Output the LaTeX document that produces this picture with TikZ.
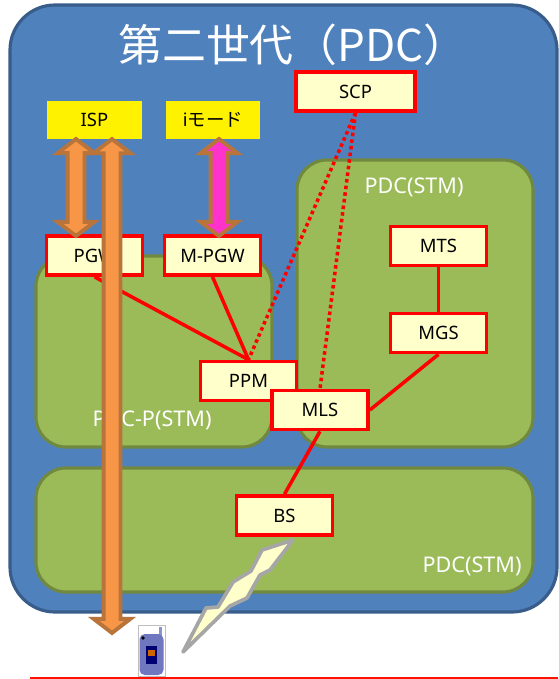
\documentclass[tikz,border=0pt]{standalone}
\usepackage{fontspec}
\setmainfont{Noto Sans}
\newfontfamily\jpfont{Noto Sans CJK JP}
\usepackage{xcolor}
\usetikzlibrary{arrows.meta,shapes.arrows}
\definecolor{bluefill}{HTML}{4F81BD}
\definecolor{blueline}{HTML}{385D8A}
\definecolor{greenfill}{HTML}{9BBB59}
\definecolor{greenline}{HTML}{71893F}
\definecolor{creamfill}{HTML}{FFFFCC}
\definecolor{orangefill}{HTML}{F79646}
\definecolor{orangeline}{HTML}{B8743A}
\definecolor{pinkfill}{HTML}{FF33CC}
\definecolor{phoneblue}{HTML}{6F78BE}
\tikzset{
  areabox/.style={draw=greenline,fill=greenfill,line width=1.8pt,rounded corners=0.6cm},
  netbox/.style={draw=red,fill=creamfill,line width=2.1pt,minimum width=1.92cm,minimum height=0.78cm,inner sep=0pt,font=\fontsize{10.5}{12}\selectfont},
  sitebox/.style={fill=yellow,minimum width=1.9cm,minimum height=0.76cm,inner sep=0pt,font=\fontsize{10.5}{12}\selectfont},
  arealabel/.style={text=white,font=\fontsize{12.3}{14}\selectfont},
  link/.style={draw=red,line width=2pt},
  dotlink/.style={draw=red,line width=2pt,dash pattern=on 2pt off 1.8pt},
  fatarrow/.style={double arrow,draw=orangeline,line width=2.2pt,rotate=90,inner xsep=0pt,inner ysep=0.13cm,
    double arrow head extend=0.2cm,double arrow tip angle=105,double arrow head indent=0pt}
}
\begin{document}
\begin{tikzpicture}[x=0.02cm,y=-0.02cm]
\useasboundingbox (0,0) rectangle (558,679);
% outer frame
\draw[draw=blueline,fill=bluefill,line width=1.8pt,rounded corners=0.9cm] (10,5) rectangle (557,612);
\node (title) at (293,45) {\jpfont\color{white}\fontsize{25}{28}\selectfont 第二世代（PDC）};
% areas
\draw[areabox] (36,256) rectangle (272,447);
\draw[areabox] (297,160) rectangle (533,447);
\draw[areabox] (36,468) rectangle (533,592);
\node[arealabel] (labelP) at (152,420) {PDC-P(STM)};
\node[arealabel] (labelU) at (414,187) {PDC(STM)};
\node[arealabel] (labelL) at (472,566) {PDC(STM)};
% top row
\node[sitebox] (ISP) at (94.5,120) {ISP};
\node[sitebox] (imode) at (213,120) {i\jpfont モード};
\node[netbox,minimum width=2.38cm] (SCP) at (355.5,91.5) {SCP};
% gateways
\node[netbox] (PGW) at (94.5,255.5) {PGW};
\node[netbox] (MPGW) at (212.5,255.5) {M-PGW};
\node[netbox] (MTS) at (438.5,246) {MTS};
\node[netbox] (MGS) at (438.5,333) {MGS};
\node[netbox] (PPM) at (248.5,381) {PPM};
\node[netbox] (MLS) at (320,410) {MLS};
\node[netbox] (BS) at (284.5,515.5) {BS};
% links
\draw[dotlink] (SCP.south) -- (PPM.north);
\draw[dotlink] (SCP.south) -- (MLS.north);
\draw[link] (PGW.south) -- (PPM.north);
\draw[link] (MPGW.south) -- (PPM.north);
\draw[link] (MTS.south) -- (MGS.north);
\draw[link] (MGS.south) -- (MLS.east);
\draw[link] (MLS.south) -- (BS.north);
% block arrows
\node[fatarrow,fill=orangefill,minimum height=1.94cm] (arrowA) at (76,187.5) {};
\node[fatarrow,fill=pinkfill,minimum height=1.94cm] (arrowB) at (219,187.5) {};
\node[fatarrow,fill=orangefill,minimum height=9.88cm] (arrowC) at (112,386) {};
% radio bolt
\draw[draw=black!35,fill=creamfill,line width=2.1pt,line join=round]
  (293,540) -- (262,550) -- (251,571) -- (233,582) -- (218,607) -- (206,608) -- (183,652)
  -- (230,606) -- (247,598) -- (260,575) -- (270,570) -- cycle;
% handset
\draw[draw=black!25,fill=white,line width=0.4pt] (138,625) rectangle (165.5,676);
\fill[phoneblue!80] (159,627) rectangle (162,640);
\fill[phoneblue,rounded corners=3pt] (139.5,634) rectangle (163.5,675);
\fill[blue!45!black] (146,646) rectangle (157,664);
\fill[orange!80!black] (148,650) rectangle (155,656);
\fill[black] (143,638) circle (1.8);
% bottom line
\draw[draw=red!85!orange,line width=0.6pt] (30,678) -- (558,678);
\end{tikzpicture}
\end{document}
